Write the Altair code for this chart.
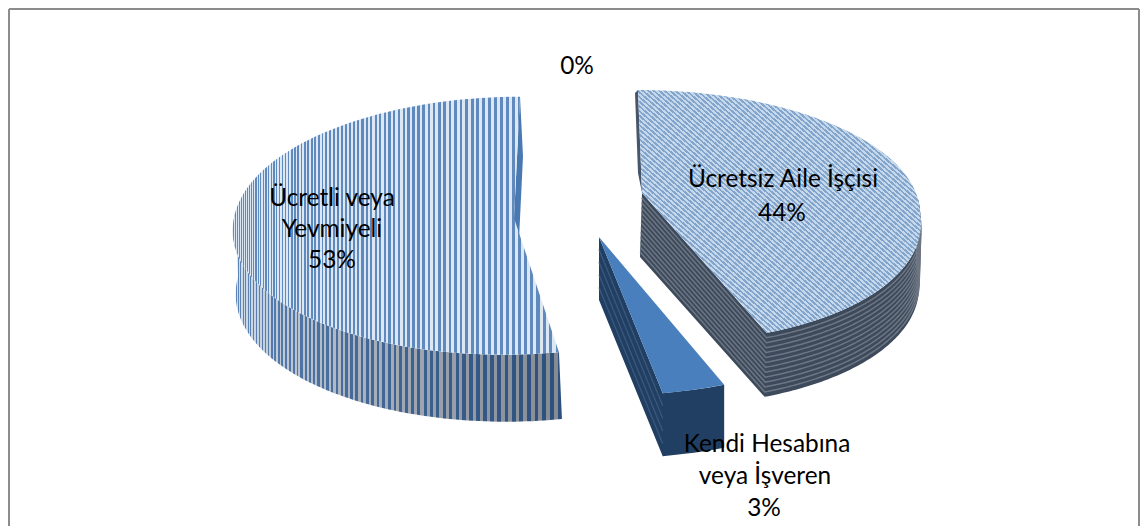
import math
import altair as alt
import pandas as pd

# ---- data
names = ["Ücretsiz Aile İşçisi", "Kendi Hesabına veya İşveren", "Ücretli veya Yevmiyeli", "Diğer"]
shares = [44, 3, 53, 0]

# ---- layout (screen pixels) for the tilted, exploded pie
W, H = 1140, 526
FONT = "Lato"
LAYOUT = {
    0: dict(ax=642, ay=193, ox=642, oy=212, A=278, B=122, Bf=130, p=0.0, kb=-4, kf=24, dz=64, zx=-2),
    1: dict(ax=599, ay=237, ox=599, oy=237, A=340, B=159, Bf=159, p=0.0, kb=0, kf=0, dz=63, zx=0),
    2: dict(ax=514, ay=218, ox=514, oy=218, A=280, B=128.5, Bf=128.5, p=0.06, kb=6, kf=-11, dz=63, zx=3),
}
LABELS = [
    ("0%", 577, 67), ("Ücretsiz Aile İşçisi", 783, 180), ("44%", 782, 214),
    ("Ücretli veya", 332, 199), ("Yevmiyeli", 332, 230), ("53%", 332, 261),
    ("Kendi Hesabına", 767, 445), ("veya İşveren", 765, 477), ("3%", 764, 509),
]

# slice angles come from the shares
total = sum(shares)
angles = {}
acc = 0
for i, s in enumerate(shares):
    angles[i] = (acc / total * 360, (acc + s) / total * 360)
    acc += s


def pt(i, deg, z=0.0):
    L = LAYOUT[i]
    t = math.radians(deg)
    u, v = math.sin(t), math.cos(t)
    s = 1 / (1 + L["p"] * v)
    x = L["ox"] + L["A"] * u * s + L["kb"] * max(0, v) + L["kf"] * max(0, -v) + L["zx"] * z
    y = L["oy"] - (L["B"] if v > 0 else L["Bf"]) * v * s + L["dz"] * z * s
    return x, y


def arc(i, a0, a1, z=0.0, n=90):
    return [pt(i, a0 + (a1 - a0) * k / n, z) for k in range(n + 1)]


def apex(i, z=0.0):
    L = LAYOUT[i]
    return L["ax"] + L["zx"] * z, L["ay"] + L["dz"] * z


def mix(c1, c2, t):
    a = [int(c1[j:j + 2], 16) for j in (1, 3, 5)]
    b = [int(c2[j:j + 2], 16) for j in (1, 3, 5)]
    return "#" + "".join(f"{round(p + (q - p) * t):02x}" for p, q in zip(a, b))


def stripes(c1, c2, n, x1=0, y1=0, x2=1, y2=0, c1b=None, c2b=None, chirp=0.0):
    """Narrow alternating stops; chirp widens them along the vector, c1b/c2b fade the colours."""
    stops = []
    c1b, c2b = c1b or c1, c2b or c2
    f = lambda q: q - chirp * q * (1 - q)
    for k in range(n):
        q = k / n
        a, b, c = f(k / n), f((k + 0.5) / n), f((k + 1) / n)
        p1, p2 = mix(c1, c1b, q), mix(c2, c2b, q)
        stops += [dict(offset=a, color=p1), dict(offset=b, color=p1),
                  dict(offset=b, color=p2), dict(offset=c, color=p2)]
    return dict(gradient="linear", x1=x1, y1=y1, x2=x2, y2=y2, stops=stops)


X = alt.X("x:Q", scale=alt.Scale(domain=[8, 8 + W - 8], nice=False), axis=None)
Y = alt.Y("y:Q", scale=alt.Scale(domain=[H, 8], nice=False), axis=None)


def poly(points, fill):
    df = pd.DataFrame(points, columns=["x", "y"]).assign(i=range(len(points)))
    return alt.Chart(df).mark_line(fill=fill, strokeWidth=0, stroke="transparent", interpolate="linear").encode(
        x=X, y=Y, order="i:Q")


def path(points, color, width):
    df = pd.DataFrame(points, columns=["x", "y"]).assign(i=range(len(points)))
    return alt.Chart(df).mark_line(color=color, strokeWidth=width, interpolate="linear").encode(
        x=X, y=Y, order="i:Q")


layers = []

# Ücretli veya Yevmiyeli (left) : walls then top
a0, a1 = angles[2]
wall = arc(2, a0, 272) + arc(2, a0, 272, 1)[::-1]
layers.append(poly(wall, stripes("#d3e0ee", "#5f86b8", 66, c1b="#858a92", c2b="#2c4f7c", chirp=0.6)))
sliver = [pt(2, 360), pt(2, 360, 1), apex(2, 1), apex(2)]
layers.append(poly(sliver, "#4a79b2"))
layers.append(poly([apex(2)] + arc(2, a0, a1), stripes("#dbe7f3", "#6089bd", 80, chirp=0.6)))

# Ücretsiz Aile İşçisi (right)
a0, a1 = angles[0]
layers.append(poly([apex(0), apex(0, 1)] + arc(0, a1, 84, 1) + arc(0, 84, a1), "#3d4a5c"))
for k in range(1, 13):
    z = k / 13
    layers.append(path([apex(0, z)] + arc(0, a1, 84, z), "#6d7682", 1.5))
layers.append(poly([pt(0, 0), apex(0), (apex(0)[0] - 4, apex(0)[1] - 20), (pt(0, 0)[0] - 3, pt(0, 0)[1] + 3)], "#47566a"))
layers.append(poly([apex(0)] + arc(0, a0, a1), stripes("#c6d8eb", "#83a4cb", 104, 0, 1, 1, 0)))

# Kendi Hesabına veya İşveren (front)
a0, a1 = angles[1]
pts = [apex(1), apex(1, 1)] + arc(1, a1, a0, 1, 4) + arc(1, a0, a1, 0, 4)
layers.append(poly(pts, "#213f63"))
for k in range(1, 5):
    z = k / 5
    layers.append(path([apex(1, z)] + arc(1, a1, a1, z, 1), "#3d5a7e", 1.2))
layers.append(poly([apex(1)] + arc(1, a0, a1, 0, 6), "#4a7fbe"))

# frame
FRAME = "#8c8c8c"
layers.append(alt.Chart(pd.DataFrame({"x": [9], "x2": [W - 1], "y": [9]})).mark_rule(color=FRAME, strokeWidth=2).encode(x=X, x2="x2:Q", y=Y))
layers.append(alt.Chart(pd.DataFrame({"x": [9, W - 1], "y": [9, 9], "y2": [H, H]})).mark_rule(color=FRAME, strokeWidth=2).encode(x=X, y=Y, y2="y2:Q"))

# labels
lab = pd.DataFrame(LABELS, columns=["t", "x", "y"])
layers.append(alt.Chart(lab).mark_text(font=FONT, fontSize=24.4, color="#000000", align="center", baseline="middle").encode(
    x=X, y=Y, text="t:N"))

chart = alt.layer(*layers).properties(
    width=W - 8, height=H - 8, padding=0, background="white",
    autosize=alt.AutoSizeParams(type="none"),
).configure_view(stroke=None)

chart.save("out.html", embed_options={"renderer": "svg", "actions": False})
